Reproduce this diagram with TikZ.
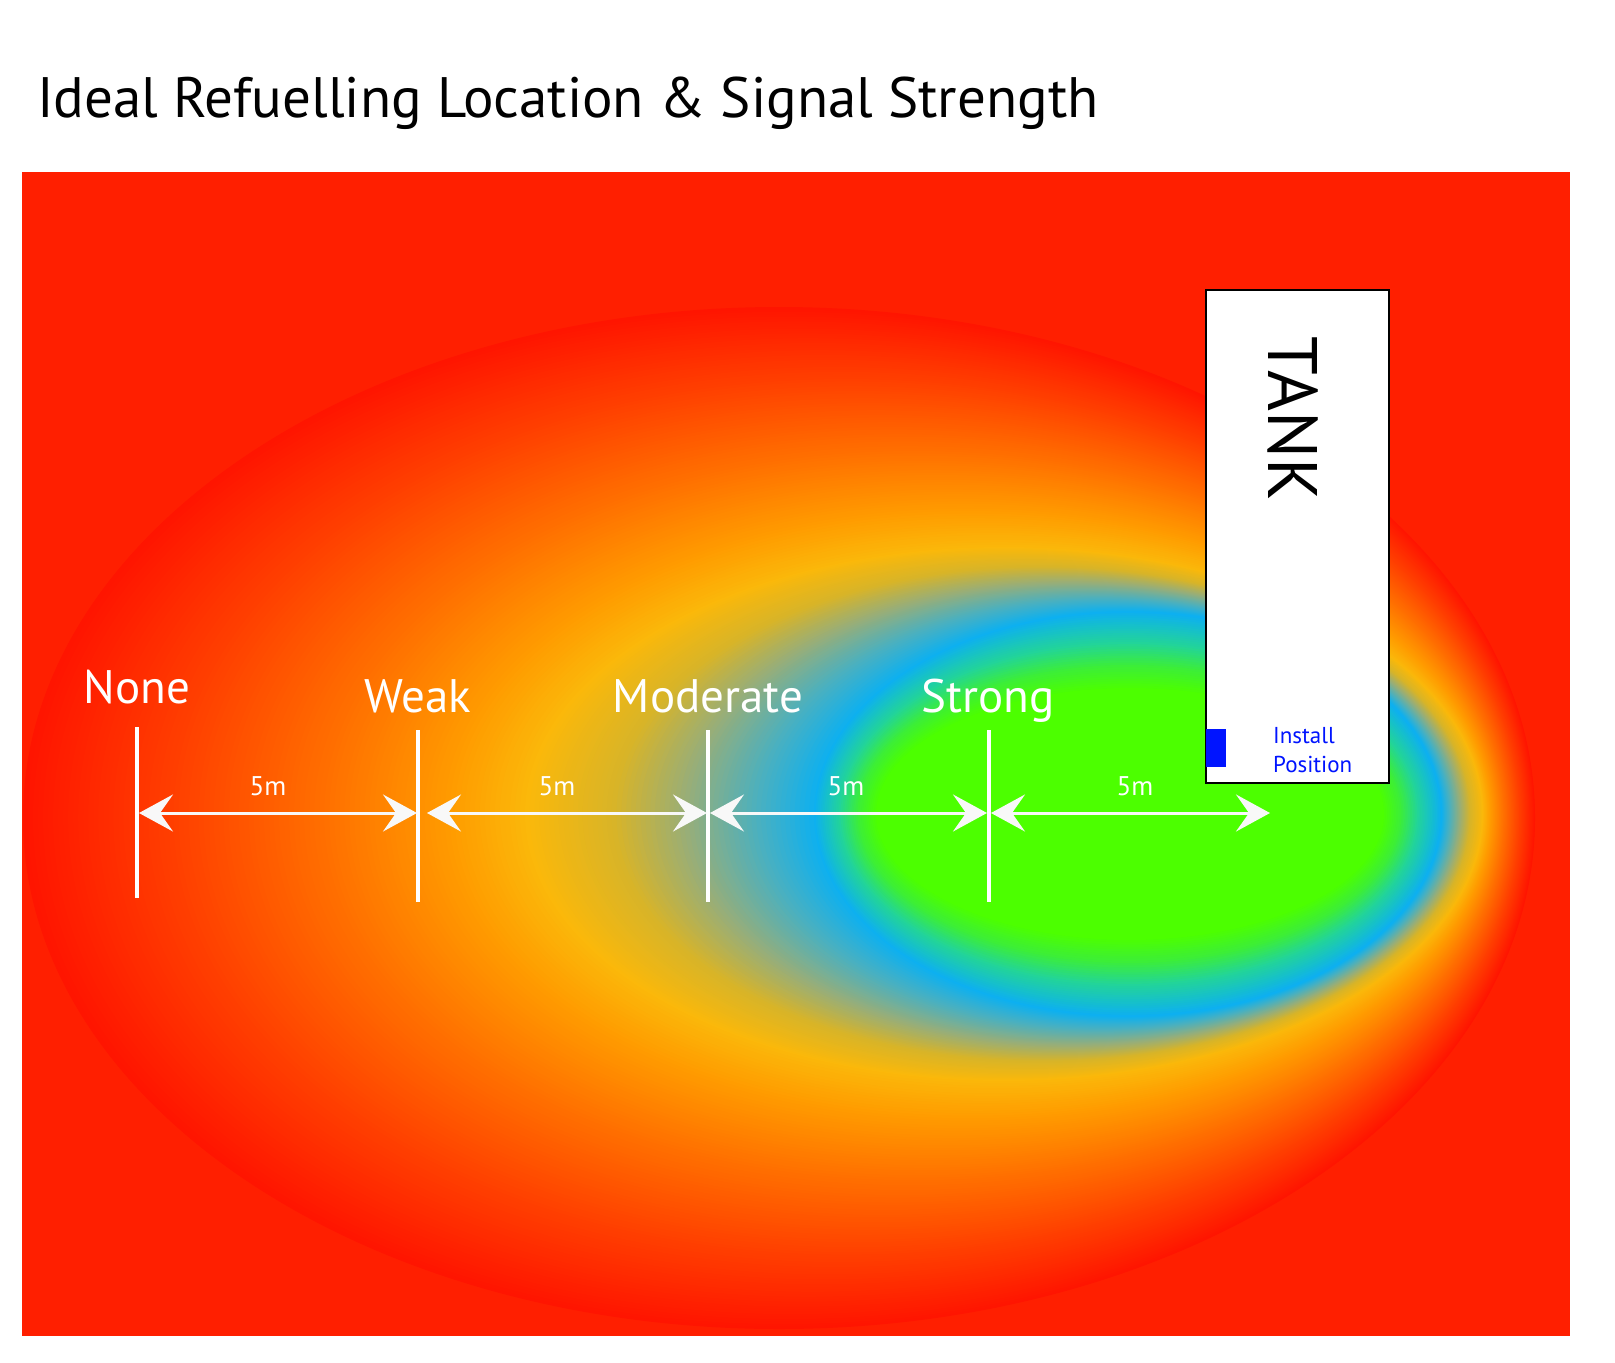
\documentclass[tikz,border=0pt]{standalone}
\usepackage{fontspec}
\setmainfont{PT Sans}
\usetikzlibrary{arrows.meta}
\definecolor{bgred}{RGB}{255,31,0}
\definecolor{c0}{HTML}{FF1500}
\definecolor{c1}{HTML}{FF4000}
\definecolor{c2}{HTML}{FF7000}
\definecolor{c3}{HTML}{FF9C00}
\definecolor{c4}{HTML}{FBB80A}
\definecolor{c5}{HTML}{D8B428}
\definecolor{c6}{HTML}{98AE78}
\definecolor{c7}{HTML}{4AB0C0}
\definecolor{c8}{HTML}{0DB0F0}
\definecolor{c9}{HTML}{22D49A}
\definecolor{c10}{HTML}{3CEE38}
\definecolor{c11}{HTML}{4CFF00}
\definecolor{instblue}{RGB}{0,20,255}
\definecolor{arrw}{HTML}{F8F8F8}
% geometry keyframes: centre x, centre y, x radius, y radius
\newcommand\geomat[1]{%
  \pgfmathsetmacro\cx{#1<1 ? 779+(1004-779)*#1 : (#1<2 ? 1004+(1128-1004)*(#1-1) : 1128+(1130-1128)*(#1-2))}%
  \pgfmathsetmacro\cy{#1<1 ? 818+(814-818)*#1 : (#1<2 ? 814 : 814)}%
  \pgfmathsetmacro\rx{#1<1 ? 756+(479-756)*#1 : (#1<2 ? 479+(314-479)*(#1-1) : 314+(254-314)*(#1-2))}%
  \pgfmathsetmacro\ry{#1<1 ? 511+(267-511)*#1 : (#1<2 ? 267+(203-267)*(#1-1) : 203+(126-203)*(#1-2))}%
}
\newcommand\band[5]{%
  \pgfmathtruncatemacro\nlast{#5-1}%
  \foreach \j in {0,...,\nlast}{%
    \pgfmathsetmacro\s{#1+(#2-#1)*\j/#5}%
    \geomat{\s}%
    \pgfmathsetmacro\p{100*(1-\j/#5)}%
    \fill[#3!\p!#4] (\cx,\cy) ellipse [x radius=\rx, y radius=\ry];
  }%
}
\tikzset{
  ticklabel/.style={text=white, inner sep=0pt, anchor=base, font=\fontsize{47}{56}\selectfont},
  distlabel/.style={text=white, inner sep=0pt, anchor=base, font=\fontsize{27}{32}\selectfont},
  tickline/.style={draw=white, line width=3.5pt},
  dimarrow/.style={draw=arrw, line width=3pt,
    {Stealth[length=34pt,width=37pt,inset=13pt]}-{Stealth[length=34pt,width=37pt,inset=13pt]}},
  tankbox/.style={draw=black, line width=2pt, fill=white, inner sep=0pt,
    minimum width=183pt, minimum height=493pt},
  installmark/.style={fill=instblue, inner sep=0pt, minimum width=20pt, minimum height=38pt},
}
\begin{document}
\begin{tikzpicture}[x=1pt,y=-1pt]
\useasboundingbox (0,0) rectangle (1615,1363);
\fill[white] (0,0) rectangle (1615,1363);
% title
\node[anchor=base west, inner sep=0pt, font=\fontsize{57}{68}\selectfont] (title) at (37,117) {Ideal Refuelling Location \& Signal Strength};
% heat map
\fill[bgred] (22,172) rectangle (1570,1336);
\begin{scope}
  \clip (22,172) rectangle (1570,1336);
  \band{0}{0.3}{c0}{c1}{30}
  \band{0.3}{0.6}{c1}{c2}{30}
  \band{0.6}{0.85}{c2}{c3}{25}
  \band{0.85}{1}{c3}{c4}{15}
  \band{1}{1.3}{c4}{c5}{18}
  \band{1.3}{1.55}{c5}{c6}{15}
  \band{1.55}{1.8}{c6}{c7}{15}
  \band{1.8}{2}{c7}{c8}{12}
  \band{2}{2.4}{c8}{c9}{14}
  \band{2.4}{2.7}{c9}{c10}{10}
  \band{2.7}{3}{c10}{c11}{10}
  \fill[c11] (1130,814) ellipse [x radius=254, y radius=126];
\end{scope}
% tank
\node[tankbox] (tank) at (1297.5,536.5) {};
\node[rotate=-90, inner sep=0pt, font=\fontsize{70}{84}\selectfont] (tanklabel) at (1292.5,419) {TANK};
\node[installmark, anchor=north west] (inst) at (1206,729) {};
\node[anchor=base west, inner sep=0pt, align=left, text=instblue, font=\fontsize{23}{29}\selectfont] (insttext) at (1273,772) {Install\\Position};
% ticks
\coordinate (t1a) at (137,727); \coordinate (t1b) at (137,898);
\coordinate (t2a) at (418,730); \coordinate (t2b) at (418,902);
\coordinate (t3a) at (708,730); \coordinate (t3b) at (708,902);
\coordinate (t4a) at (989,730); \coordinate (t4b) at (989,902);
\draw[tickline] (t1a) -- (t1b);
\draw[tickline] (t2a) -- (t2b);
\draw[tickline] (t3a) -- (t3b);
\draw[tickline] (t4a) -- (t4b);
% dimension arrows
\coordinate (a1s) at (139,813); \coordinate (a1e) at (417,813);
\coordinate (a2s) at (427,813); \coordinate (a2e) at (707,813);
\coordinate (a3s) at (710,813); \coordinate (a3e) at (987,813);
\coordinate (a4s) at (991,813); \coordinate (a4e) at (1270,813);
\draw[dimarrow] (a1s) -- (a1e);
\draw[dimarrow] (a2s) -- (a2e);
\draw[dimarrow] (a3s) -- (a3e);
\draw[dimarrow] (a4s) -- (a4e);
% labels
\node[ticklabel] (lnone) at (137,703) {None};
\node[ticklabel] (lweak) at (418,712) {Weak};
\node[ticklabel] (lmod) at (708,712) {Moderate};
\node[ticklabel] (lstrong) at (988,712) {Strong};
\node[distlabel] (d1) at (268,795) {5m};
\node[distlabel] (d2) at (557,795) {5m};
\node[distlabel] (d3) at (846,795) {5m};
\node[distlabel] (d4) at (1135,795) {5m};
\end{tikzpicture}
\end{document}
